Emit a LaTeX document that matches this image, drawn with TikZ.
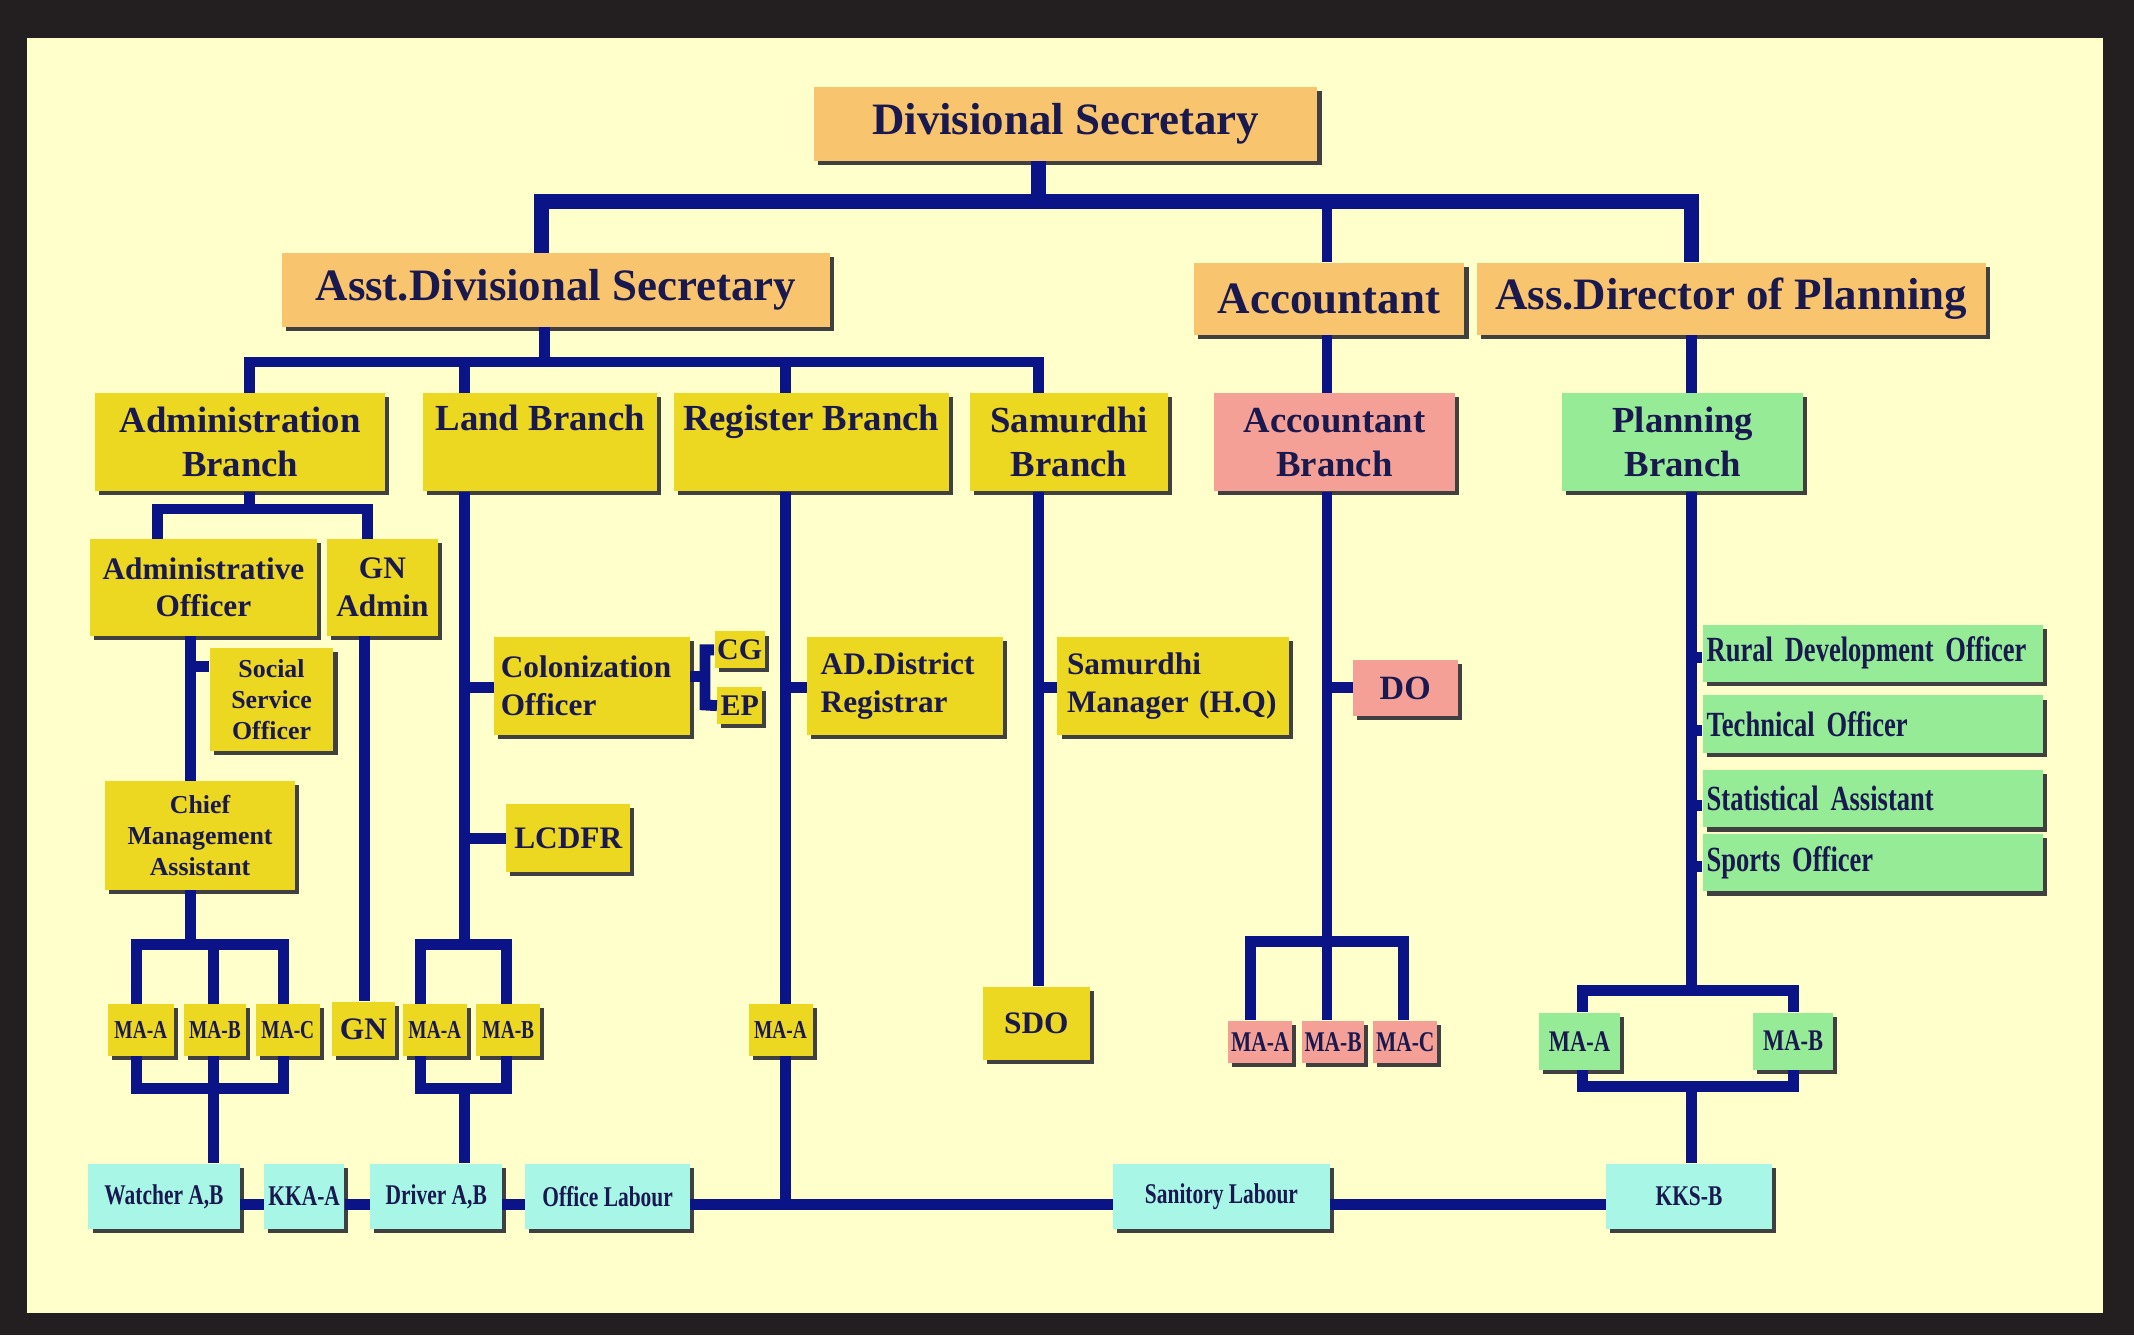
\documentclass[tikz,border=0pt]{standalone}
\usepackage{fontspec}
\setmainfont{Liberation Serif}
\newfontfamily\narrowfont{Liberation Serif}[FakeStretch=0.75]
\usetikzlibrary{shadows}
\definecolor{frame}{RGB}{35,31,32}
\definecolor{paper}{RGB}{255,255,204}
\definecolor{navy}{RGB}{10,20,135}
\definecolor{ink}{RGB}{25,25,80}
\definecolor{orangebox}{RGB}{249,196,110}
\definecolor{yellowbox}{RGB}{236,215,33}
\definecolor{pinkbox}{RGB}{244,160,150}
\definecolor{greenbox}{RGB}{150,236,150}
\definecolor{cyanbox}{RGB}{168,246,230}
\tikzset{
  box/.style={inner sep=2pt, align=center, text=ink, font=\bfseries,
    drop shadow={shadow xshift=3pt, shadow yshift=-3pt, fill=black!75, opacity=1}},
  link/.style={draw=navy, line width=8pt},
  biglink/.style={draw=navy, line width=11pt},
}
\newcommand{\fs}[1]{\fontsize{#1}{1.2\dimexpr#1pt\relax}\selectfont}

\begin{document}
\begin{tikzpicture}[x=1pt,y=-1pt]
% background
\fill[frame] (0,0) rectangle (1568,981);
\fill[paper] (20,28) rectangle (1545,965);

% top level
\node[box,fill=orangebox,minimum width=370,minimum height=54,font=\fs{33}\bfseries] (ds) at (783,91) {Divisional Secretary};
\node[box,fill=orangebox,minimum width=403,minimum height=54,font=\fs{33}\bfseries] (asd) at (408.5,213) {Asst.Divisional Secretary};
\node[box,fill=orangebox,minimum width=199,minimum height=53,font=\fs{33}\bfseries] (acc) at (976.5,219.5) {Accountant};
\node[box,fill=orangebox,minimum width=374,minimum height=53,font=\fs{33}\bfseries] (adp) at (1272,219.5) {Ass.Director of Planning};

% branches
\node[box,fill=yellowbox,minimum width=213,minimum height=72,font=\fs{27}\bfseries] (adm) at (176.5,325) {Administration\\Branch};
\node[box,fill=yellowbox,minimum width=172,minimum height=72,font=\fs{27}\bfseries,text depth=36] (land) at (397,325) {Land Branch};
\node[box,fill=yellowbox,minimum width=202,minimum height=72,font=\fs{27}\bfseries,text depth=36] (reg) at (596,325) {Register Branch};
\node[box,fill=yellowbox,minimum width=145,minimum height=72,font=\fs{27}\bfseries] (sam) at (785.5,325) {Samurdhi\\Branch};
\node[box,fill=pinkbox,minimum width=177,minimum height=72,font=\fs{27}\bfseries] (accb) at (980.5,325) {Accountant\\Branch};
\node[box,fill=greenbox,minimum width=177,minimum height=72,font=\fs{27}\bfseries] (plan) at (1236.5,325) {Planning\\Branch};

% administration side
\node[box,fill=yellowbox,minimum width=167,minimum height=71,font=\fs{23}\bfseries] (ao) at (149.5,431.5) {Administrative\\Officer};
\node[box,fill=yellowbox,minimum width=82,minimum height=71,font=\fs{23}\bfseries] (gna) at (281,431.5) {GN\\Admin};
\node[box,fill=yellowbox,minimum width=91,minimum height=76,font=\fs{19}\bfseries] (sso) at (199.5,514) {Social\\Service\\Officer};
\node[box,fill=yellowbox,minimum width=140,minimum height=80,font=\fs{19}\bfseries] (cma) at (147,614) {Chief\\Management\\Assistant};
\node[box,fill=yellowbox,minimum width=49,minimum height=38,font=\fs{19}\narrowfont\bfseries] (ama) at (103.5,757) {MA-A};
\node[box,fill=yellowbox,minimum width=46,minimum height=38,font=\fs{19}\narrowfont\bfseries] (amb) at (158,757) {MA-B};
\node[box,fill=yellowbox,minimum width=47,minimum height=38,font=\fs{19}\narrowfont\bfseries] (amc) at (211.5,757) {MA-C};
\node[box,fill=yellowbox,minimum width=46,minimum height=40,font=\fs{23}\bfseries] (gn) at (267,756) {GN};

% land side
\node[box,fill=yellowbox,minimum width=144,minimum height=72,font=\fs{23}\bfseries,align=left,text width=134] (col) at (435,504) {Colonization\\Officer};
\node[box,fill=yellowbox,minimum width=33,minimum height=27,font=\fs{22}\bfseries] (cg) at (543.5,477.5) {CG};
\node[box,fill=yellowbox,minimum width=33,minimum height=27,font=\fs{22}\bfseries] (ep) at (543.5,518.5) {EP};
\node[box,fill=yellowbox,minimum width=91,minimum height=50,font=\fs{23}\bfseries] (lcdfr) at (417.5,616) {LCDFR};
\node[box,fill=yellowbox,minimum width=47,minimum height=38,font=\fs{19}\narrowfont\bfseries] (lma) at (319.5,757) {MA-A};
\node[box,fill=yellowbox,minimum width=47,minimum height=38,font=\fs{19}\narrowfont\bfseries] (lmb) at (373.5,757) {MA-B};

% register and samurdhi side
\node[box,fill=yellowbox,minimum width=144,minimum height=72,font=\fs{23}\bfseries,align=left,text width=124] (adr) at (665,504) {AD.District\\Registrar};
\node[box,fill=yellowbox,minimum width=47,minimum height=38,font=\fs{19}\narrowfont\bfseries] (rma) at (573.5,757) {MA-A};
\node[box,fill=yellowbox,minimum width=170,minimum height=72,font=\fs{23}\bfseries,align=left,text width=156] (smh) at (862,504) {Samurdhi\\Manager (H.Q)};
\node[box,fill=yellowbox,minimum width=79,minimum height=54,font=\fs{23}\bfseries] (sdo) at (761.5,752) {SDO};

% accountant side
\node[box,fill=pinkbox,minimum width=77,minimum height=41,font=\fs{25}\bfseries] (do) at (1032.5,505.5) {DO};
\node[box,fill=pinkbox,minimum width=44,minimum height=31,font=\fs{21}\narrowfont\bfseries] (pma) at (926,765.5) {MA-A};
\node[box,fill=pinkbox,minimum width=44,minimum height=31,font=\fs{21}\narrowfont\bfseries] (pmb) at (979.5,765.5) {MA-B};
\node[box,fill=pinkbox,minimum width=44,minimum height=31,font=\fs{21}\narrowfont\bfseries] (pmc) at (1032.5,765.5) {MA-C};

% planning side
\foreach \nm/\yy/\txt in {rdo/480/Rural Development Officer, teo/532/Technical Officer, sta/587/Statistical Assistant, spo/634/Sports Officer}
  \node[box,fill=greenbox,minimum width=250,minimum height=42,font=\fs{26}\narrowfont\bfseries,align=left,text width=244] (\nm) at (1376,\yy) {\txt};
\node[box,fill=greenbox,minimum width=59,minimum height=42,font=\fs{22}\narrowfont\bfseries] (gma) at (1160.5,765) {MA-A};
\node[box,fill=greenbox,minimum width=59,minimum height=42,font=\fs{22}\narrowfont\bfseries] (gmb) at (1317.5,765) {MA-B};

% bottom row
\node[box,fill=cyanbox,minimum width=111,minimum height=48,font=\fs{21}\narrowfont\bfseries] (wat) at (120.5,879) {Watcher A,B};
\node[box,fill=cyanbox,minimum width=59,minimum height=48,font=\fs{21}\narrowfont\bfseries] (kka) at (223.5,879) {KKA-A};
\node[box,fill=cyanbox,minimum width=97,minimum height=48,font=\fs{21}\narrowfont\bfseries] (drv) at (320.5,879) {Driver A,B};
\node[box,fill=cyanbox,minimum width=121,minimum height=48,font=\fs{21}\narrowfont\bfseries] (olb) at (446.5,879) {Office Labour};
\node[box,fill=cyanbox,minimum width=159,minimum height=48,font=\fs{21}\narrowfont\bfseries] (slb) at (897.5,879) {Sanitory Labour};
\node[box,fill=cyanbox,minimum width=122,minimum height=48,font=\fs{21}\narrowfont\bfseries] (kks) at (1241,879) {KKS-B};

% top connectors
\coordinate (topbar) at (763,148);
\draw[biglink] (ds.south -| topbar) -- (topbar);
\draw[biglink] (asd.north -| 398,0) |- (1243,148) -- (adp.north -| 1243,0);
\draw[link] (975,148) -- (acc.north -| 975,0);
\coordinate (asdbar) at (400,266);
\draw[link] (asd.south -| asdbar) -- (asdbar);
\draw[link] (adm.north -| 183,0) |- (763,266) -- (sam.north -| 763,0);
\draw[link] (341,266) -- (land.north -| 341,0);
\draw[link] (577,266) -- (reg.north -| 577,0);

% administration connectors
\draw[link] (adm.south -| 183,0) -- (183,374);
\draw[link] (ao.north -| 116,0) |- (270,374) -- (gna.north -| 270,0);
\draw[link] (ao.south -| 140,0) -- (cma.north -| 140,0);
\draw[link] (140,490) -- (sso.west |- 0,490);
\draw[link] (cma.south -| 140,0) -- (140,694);
\draw[link] (ama.north -| 100,0) |- (208,694) -- (amc.north -| 208,0);
\draw[link] (157,694) -- (amb.north -| 157,0);
\draw[link] (ama.south -| 100,0) |- (208,800) -- (amc.south -| 208,0);
\draw[link] (amb.south -| 157,0) -- (wat.north -| 157,0);
\draw[link] (gna.south -| 268,0) -- (gn.north -| 268,0);

% land connectors
\draw[link] (land.south -| 341,0) -- (341,694);
\draw[link] (lma.north -| 309,0) |- (372,694) -- (lmb.north -| 372,0);
\draw[link] (341,505) -- (col.west |- 0,505);
\draw[link] (341,616) -- (lcdfr.west);
\draw[link] (lma.south -| 309,0) |- (372,800) -- (lmb.south -| 372,0);
\draw[link] (341,800) -- (drv.north -| 341,0);
\draw[link] (col.east |- 0,497) -- (518,497);
\draw[link] (cg.west) -| (518,518) -- (ep.west);

% register and samurdhi connectors
\draw[link] (reg.south -| 577,0) -- (rma.north -| 577,0);
\draw[link] (577,505) -- (adr.west |- 0,505);
\draw[link] (rma.south -| 577,0) -- (577,885);
\draw[link] (sam.south -| 763,0) -- (sdo.north -| 763,0);
\draw[link] (763,505) -- (smh.west |- 0,505);

% accountant connectors
\draw[link] (acc.south -| 975,0) -- (accb.north -| 975,0);
\draw[link] (accb.south -| 975,0) -- (975,692);
\draw[link] (975,505) -- (do.west |- 0,505);
\draw[link] (pma.north -| 919,0) |- (1031,692) -- (pmc.north -| 1031,0);
\draw[link] (975,692) -- (pmb.north -| 975,0);

% planning connectors
\draw[link] (adp.south -| 1243,0) -- (plan.north -| 1243,0);
\draw[link] (plan.south -| 1243,0) -- (1243,728);
\foreach \nm/\yy in {rdo/483, teo/537, sta/592, spo/637}
  \draw[link] (1243,\yy) -- (\nm.west |- 0,\yy);
\draw[link] (gma.north -| 1163,0) |- (1318,728) -- (gmb.north -| 1318,0);
\draw[link] (gma.south -| 1163,0) |- (1318,798) -- (gmb.south -| 1318,0);
\draw[link] (1243,798) -- (kks.north -| 1243,0);

% bottom chain
\draw[link] (wat.east |- 0,885) -- (kka.west |- 0,885);
\draw[link] (kka.east |- 0,885) -- (drv.west |- 0,885);
\draw[link] (drv.east |- 0,885) -- (olb.west |- 0,885);
\draw[link] (olb.east |- 0,885) -- (slb.west |- 0,885);
\draw[link] (slb.east |- 0,885) -- (kks.west |- 0,885);
\end{tikzpicture}
\end{document}
